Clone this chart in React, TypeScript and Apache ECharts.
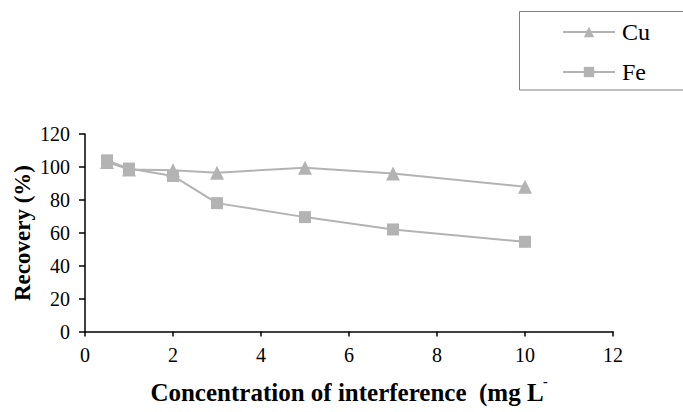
import React, { useEffect, useRef } from "react";
import * as echarts from "echarts";

const seriesNames = ["Cu", "Fe"];
const concentrations = [0.5, 1, 2, 3, 5, 7, 10];
const cuRecovery = [103, 98.5, 98, 96.5, 99.5, 96, 88];
const feRecovery = [104, 99, 94.5, 78, 69.5, 62, 54.5];
const xTicks = { min: 0, max: 12, interval: 2 };
const yTicks = { min: 0, max: 120, interval: 20 };
const yAxisTitle = "Recovery (%)";
const xAxisTitle = "Concentration of interference  (mg L";

const FONT = "Liberation Serif";
const GREY = "#b3b3b3";

export default function App() {
  const ref = useRef<HTMLDivElement>(null);
  useEffect(() => {
    if (!ref.current) return;
    const chart = echarts.init(ref.current, null, { renderer: "svg" });
    const pairs = (ys: number[]) => concentrations.map((x, i) => [x, ys[i]]);
    chart.setOption({
      animation: false,
      backgroundColor: "#ffffff",
      grid: { left: 85, right: 70, top: 134, bottom: 80.5, containLabel: false },
      xAxis: {
        type: "value",
        min: xTicks.min,
        max: xTicks.max,
        interval: xTicks.interval,
        axisLine: { show: true, onZero: false, lineStyle: { color: "#000", width: 1.5 } },
        axisTick: { show: true, inside: false, length: 5, lineStyle: { color: "#000", width: 1.5 } },
        axisLabel: { color: "#000", fontFamily: FONT, fontSize: 20, margin: 13 },
        splitLine: { show: false },
      },
      yAxis: {
        type: "value",
        min: yTicks.min,
        max: yTicks.max,
        interval: yTicks.interval,
        axisLine: { show: true, onZero: false, lineStyle: { color: "#000", width: 1.5 } },
        axisTick: { show: true, inside: false, length: 6, lineStyle: { color: "#000", width: 1.5 } },
        axisLabel: { color: "#000", fontFamily: FONT, fontSize: 20, margin: 15 },
        splitLine: { show: false },
      },
      legend: {
        orient: "vertical",
        left: 557,
        top: 15,
        itemWidth: 52,
        itemHeight: 13,
        itemGap: 16,
        textStyle: { color: "#000", fontFamily: FONT, fontSize: 24, padding: [0, 0, 0, 2] },
        data: seriesNames,
      },
      graphic: [
        {
          type: "rect",
          shape: { x: 519.5, y: 11.5, width: 200, height: 78.5 },
          style: { fill: "none", stroke: "#808080", lineWidth: 1 },
          silent: true,
        },
        {
          type: "text",
          x: 22,
          y: 233,
          rotation: Math.PI / 2,
          style: {
            text: yAxisTitle,
            fill: "#000",
            fontFamily: FONT,
            fontWeight: "bold",
            fontSize: 23,
            align: "center",
            verticalAlign: "middle",
          },
        },
        {
          type: "text",
          x: 347,
          y: 392,
          style: {
            text: xAxisTitle,
            fill: "#000",
            fontFamily: FONT,
            fontWeight: "bold",
            fontSize: 25,
            align: "center",
            verticalAlign: "middle",
          },
        },
        {
          type: "text",
          x: 543,
          y: 381,
          style: {
            text: "-",
            fill: "#000",
            fontFamily: FONT,
            fontWeight: "bold",
            fontSize: 14,
            align: "left",
            verticalAlign: "middle",
          },
        },
      ],
      series: [
        {
          name: seriesNames[0],
          type: "line",
          data: pairs(cuRecovery),
          symbol: "triangle",
          symbolSize: 14,
          itemStyle: { color: GREY },
          lineStyle: { color: GREY, width: 2 },
          z: 2,
        },
        {
          name: seriesNames[1],
          type: "line",
          data: pairs(feRecovery),
          symbol: "rect",
          symbolSize: 12,
          itemStyle: { color: GREY },
          lineStyle: { color: GREY, width: 2 },
          z: 3,
        },
      ],
    });
    return () => chart.dispose();
  }, []);
  return (
    <div
      ref={ref}
      style={{ position: "fixed", left: 0, top: 0, width: 683, height: 412, background: "#fff" }}
    />
  );
}
